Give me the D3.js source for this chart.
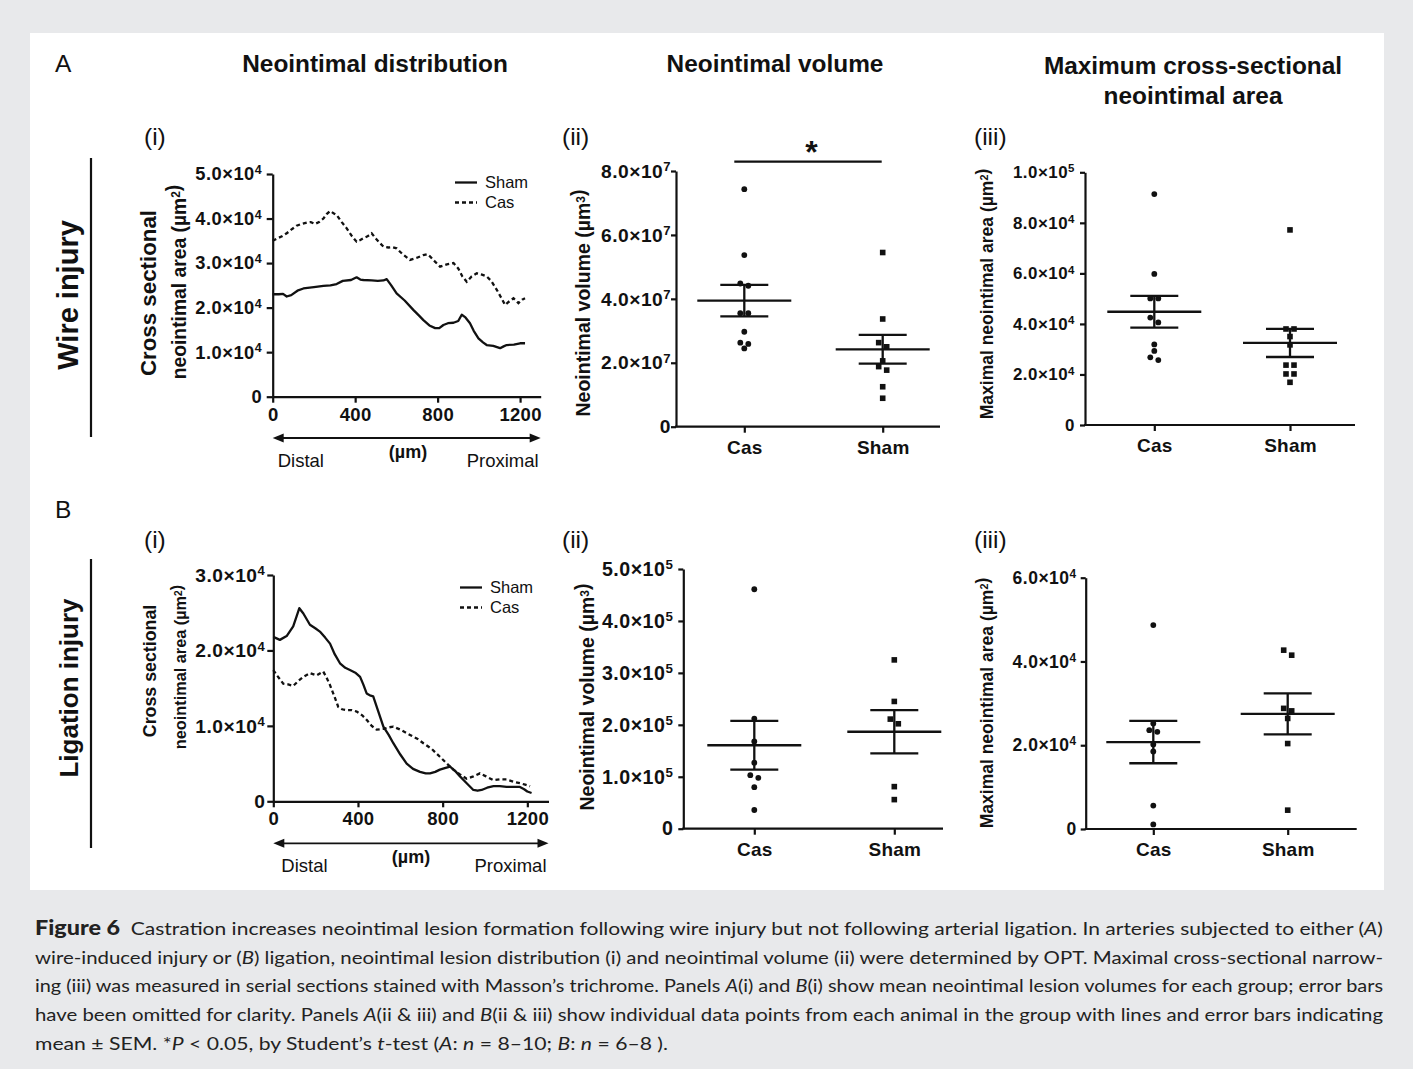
<!DOCTYPE html>
<html>
<head>
<meta charset="utf-8">
<script src="https://cdnjs.cloudflare.com/ajax/libs/d3/7.8.5/d3.min.js"></script>
<style>
  html, body { margin: 0; padding: 0; background: #e8e9eb; }
  svg { display: block; }
</style>
</head>
<body>
<svg id="fig" width="1413" height="1069"></svg>
<script>
// ---------------- DATA ----------------
// (i) neointimal distribution curves: [position (µm), area (µm²)]
const wireSham = [[0,2.30],[30,2.30],[50,2.31],[68,2.25],[90,2.28],[120,2.38],[149,2.43],[200,2.46],[246,2.49],[280,2.50],[310,2.53],[340,2.60],[380,2.62],[407,2.68],[425,2.63],[440,2.62],[480,2.61],[510,2.60],[537,2.61],[553,2.64],[575,2.50],[601,2.32],[640,2.16],[682,1.95],[710,1.82],[731,1.72],[760,1.60],[788,1.54],[808,1.54],[828,1.61],[850,1.65],[877,1.66],[900,1.70],[917,1.84],[935,1.78],[957,1.65],[975,1.48],[998,1.31],[1020,1.22],[1038,1.16],[1070,1.14],[1103,1.09],[1120,1.13],[1135,1.16],[1170,1.17],[1200,1.20],[1224,1.20]].map(d => [d[0], d[1]*1e4]);
const wireCas = [[0,3.50],[20,3.55],[45,3.60],[68,3.67],[90,3.75],[116,3.84],[140,3.88],[165,3.91],[185,3.92],[205,3.88],[225,3.92],[246,4.00],[262,4.10],[278,4.17],[295,4.12],[310,4.08],[335,3.92],[359,3.78],[385,3.60],[407,3.48],[425,3.52],[440,3.56],[460,3.60],[480,3.67],[500,3.55],[520,3.45],[537,3.37],[560,3.35],[580,3.36],[601,3.33],[630,3.20],[666,3.07],[700,3.12],[731,3.18],[750,3.20],[763,3.15],[790,3.02],[812,2.92],[845,2.97],[877,3.00],[900,2.88],[920,2.70],[941,2.58],[965,2.70],[990,2.77],[1015,2.74],[1038,2.70],[1060,2.60],[1087,2.40],[1105,2.25],[1127,2.06],[1150,2.15],[1168,2.21],[1192,2.10],[1210,2.18],[1224,2.21]].map(d => [d[0], d[1]*1e4]);
const ligSham = [[0,2.18],[31,2.14],[63,2.19],[94,2.32],[110,2.45],[123,2.56],[142,2.49],[173,2.34],[200,2.29],[220,2.25],[245,2.17],[268,2.09],[290,1.95],[315,1.83],[340,1.77],[362,1.74],[390,1.70],[410,1.65],[425,1.55],[441,1.43],[460,1.40],[472,1.39],[495,1.20],[520,0.99],[545,0.88],[567,0.77],[600,0.62],[630,0.50],[660,0.43],[693,0.39],[720,0.37],[740,0.37],[765,0.39],[787,0.42],[810,0.44],[835,0.46],[860,0.40],[882,0.33],[910,0.25],[945,0.15],[965,0.14],[984,0.15],[1010,0.18],[1040,0.20],[1070,0.20],[1102,0.19],[1135,0.19],[1165,0.19],[1185,0.16],[1200,0.13],[1220,0.11]].map(d => [d[0], d[1]*1e4]);
const ligCas = [[0,1.74],[20,1.66],[47,1.56],[70,1.55],[94,1.53],[120,1.60],[142,1.65],[173,1.70],[205,1.67],[236,1.72],[250,1.65],[268,1.54],[290,1.38],[307,1.25],[325,1.22],[346,1.21],[370,1.21],[394,1.19],[420,1.14],[441,1.08],[465,1.00],[488,0.95],[520,0.96],[545,0.98],[567,0.99],[600,0.95],[646,0.88],[680,0.83],[709,0.77],[750,0.69],[787,0.59],[820,0.50],[850,0.42],[880,0.36],[913,0.30],[945,0.33],[976,0.37],[1005,0.33],[1040,0.28],[1070,0.29],[1102,0.29],[1135,0.26],[1165,0.24],[1190,0.22],[1213,0.20]].map(d => [d[0], d[1]*1e4]);

const distTicks = [0, 400, 800, 1200];

// (ii) neointimal volume (µm³), individual animals
const volWireCas  = [7.43, 5.37, 4.48, 4.41, 3.55, 3.55, 2.97, 2.63, 2.59, 2.45].map(v => v*1e7);
const volWireSham = [5.45, 3.37, 2.63, 2.50, 2.06, 1.88, 1.77, 1.25, 0.89].map(v => v*1e7);
const volLigCas   = [4.61, 2.12, 1.68, 1.27, 1.03, 0.98, 0.80, 0.36].map(v => v*1e5);
const volLigSham  = [3.25, 2.45, 2.11, 2.02, 0.81, 0.56].map(v => v*1e5);

// (iii) maximal neointimal area (µm²), individual animals
const areaWireCas  = [9.14, 5.98, 5.01, 5.01, 4.25, 4.06, 3.19, 2.93, 2.68, 2.57].map(v => v*1e4);
const areaWireSham = [7.72, 3.80, 3.80, 3.50, 3.17, 2.37, 2.37, 2.02, 2.02, 1.69].map(v => v*1e4);
const areaLigCas   = [4.87, 2.52, 2.36, 2.32, 2.02, 1.85, 0.56, 0.11].map(v => v*1e4);
const areaLigSham  = [4.27, 4.15, 2.88, 2.82, 2.64, 2.04, 0.45].map(v => v*1e4);

const groups = ["Cas", "Sham"];

// ---------------- DRAWING ----------------
const FONT = "'Liberation Sans', Arial, Helvetica, sans-serif";
const svg = d3.select("#fig");
svg.append("rect").attr("width", 1413).attr("height", 1069).attr("fill", "#e8e9eb");
svg.append("rect").attr("x", 30).attr("y", 33).attr("width", 1354).attr("height", 857).attr("fill", "#ffffff");

const g = svg.append("g").attr("font-family", FONT).attr("fill", "#111");

function txt(x, y, s, opt = {}) {
  const t = g.append("text").attr("x", x).attr("y", y).text(s)
    .attr("font-size", opt.size || 16)
    .attr("font-weight", opt.bold ? "bold" : "normal")
    .attr("text-anchor", opt.anchor || "start");
  return t;
}
function rotTxt(x, y, parts, opt = {}) {
  const t = g.append("text")
    .attr("transform", `translate(${x},${y}) rotate(-90)`)
    .attr("font-size", opt.size || 18)
    .attr("font-weight", "bold")
    .attr("text-anchor", opt.anchor || "middle");
  parts.forEach(p => {
    if (typeof p === "string") t.append("tspan").text(p);
    else {
      t.append("tspan").text(p.sup).attr("dy", "-0.45em").attr("font-size", "0.62em");
      t.append("tspan").text("").attr("dy", "0.45em");
    }
  });
  return t;
}

// headings
txt(55, 72, "A", { size: 24.5 });
txt(55, 518, "B", { size: 24.5 });
txt(375, 72, "Neointimal distribution", { size: 24.4, bold: true, anchor: "middle" });
txt(775, 72, "Neointimal volume", { size: 24.4, bold: true, anchor: "middle" });
txt(1193, 74, "Maximum cross-sectional", { size: 24.4, bold: true, anchor: "middle" });
txt(1193, 104, "neointimal area", { size: 24.4, bold: true, anchor: "middle" });
[["(i)", 144, 145], ["(ii)", 562, 145], ["(iii)", 974, 145], ["(i)", 144, 548], ["(ii)", 562, 548], ["(iii)", 974, 548]]
  .forEach(d => txt(d[1], d[2], d[0], { size: 24.5 }));

// row labels with vertical rules
g.append("line").attr("x1", 91).attr("x2", 91).attr("y1", 158).attr("y2", 437).attr("stroke", "#111").attr("stroke-width", 2.2);
g.append("line").attr("x1", 91).attr("x2", 91).attr("y1", 559).attr("y2", 848).attr("stroke", "#111").attr("stroke-width", 2.2);
rotTxt(78, 295, ["Wire injury"], { size: 29 });
rotTxt(78, 688, ["Ligation injury"], { size: 26 });

// tick label with superscript exponent
function sciLabel(sel) {
  sel.each(function (v) {
    const t = d3.select(this);
    t.text("");
    if (v === 0) { t.text("0"); return; }
    const e = Math.floor(Math.log10(v) + 1e-9);
    const m = v / Math.pow(10, e);
    t.append("tspan").text(m.toFixed(1) + "×10");
    t.append("tspan").text(String(e)).attr("dy", "-0.5em").attr("font-size", "0.68em");
  });
}

function styleAxis(ax, size, ls) {
  ax.selectAll("path.domain").attr("stroke", "#111").attr("stroke-width", 2.2);
  ax.selectAll(".tick line").attr("stroke", "#111").attr("stroke-width", 2.2);
  ax.selectAll(".tick text").attr("fill", "#111").attr("font-size", size).attr("font-weight", "bold")
    .attr("font-family", FONT).attr("letter-spacing", ls || 0);
}

// ------- distribution panels (i) -------
function distPanel(cfg) {
  const x = d3.scaleLinear().domain([0, 1300]).range([cfg.x0, cfg.x1]);
  const y = d3.scaleLinear().domain([0, cfg.ymax]).range([cfg.yb, cfg.yt]);
  const ya = g.append("g").attr("transform", `translate(${cfg.x0},0)`)
    .call(d3.axisLeft(y).ticks(cfg.nt).tickSize(6).tickSizeOuter(0).tickPadding(cfg.pad));
  styleAxis(ya, cfg.tfs, 0.5);
  ya.selectAll(".tick text").call(sciLabel);
  const xa = g.append("g").attr("transform", `translate(0,${cfg.yb})`)
    .call(d3.axisBottom(x).tickValues(distTicks).tickFormat(d3.format("d")).tickSize(6).tickSizeOuter(0).tickPadding(5));
  styleAxis(xa, 18.5, 0.3);
  const line = d3.line().x(d => x(d[0])).y(d => y(d[1]));
  g.append("path").datum(cfg.cas).attr("d", line).attr("fill", "none").attr("stroke", "#111")
    .attr("stroke-width", 2.3).attr("stroke-dasharray", "4,3");
  g.append("path").datum(cfg.sham).attr("d", line).attr("fill", "none").attr("stroke", "#111")
    .attr("stroke-width", 2.3).attr("stroke-linejoin", "round");
  // legend
  const L = cfg.leg;
  g.append("line").attr("x1", L.x).attr("x2", L.x + 22).attr("y1", L.y).attr("y2", L.y).attr("stroke", "#111").attr("stroke-width", 2.3);
  g.append("line").attr("x1", L.x).attr("x2", L.x + 22).attr("y1", L.y + 20).attr("y2", L.y + 20).attr("stroke", "#111").attr("stroke-width", 2.3).attr("stroke-dasharray", "4,3");
  txt(L.x + 30, L.y + 5.5, "Sham", { size: 16.5 });
  txt(L.x + 30, L.y + 25.5, "Cas", { size: 16.5 });
  // direction arrow
  const ay = cfg.arrowY, ax0 = x(0), ax1 = x(1300);
  g.append("line").attr("x1", ax0 + 6).attr("x2", ax1 - 6).attr("y1", ay).attr("y2", ay).attr("stroke", "#111").attr("stroke-width", 1.8);
  g.append("path").attr("d", `M${ax0},${ay} l11,-4.5 l0,9 z`).attr("fill", "#111");
  g.append("path").attr("d", `M${ax1},${ay} l-11,-4.5 l0,9 z`).attr("fill", "#111");
  txt(ax0 + cfg.distalDx, ay + 29, "Distal", { size: 18.5 });
  txt(ax1 - 2, ay + 29, "Proximal", { size: 18.5, anchor: "end" });
  txt(cfg.umX, ay + 20, "(µm)", { size: 18, bold: true, anchor: "middle" });
  // y title
  rotTxt(cfg.x0 - 117, cfg.t1y, ["Cross sectional"], { size: cfg.tsize1 });
  rotTxt(cfg.x0 - 87, cfg.t2y, ["neointimal area (µm", { sup: "2" }, ")"], { size: cfg.tsize2 });
}

distPanel({ x0: 272.7, x1: 540.7, yb: 396.7, yt: 174, ymax: 5e4, nt: 5, tfs: 18.3, pad: 4.5,
  sham: wireSham, cas: wireCas, leg: { x: 455, y: 182.5 }, arrowY: 438,
  distalDx: 5, umX: 408, t1y: 293, t2y: 282, tsize1: 22.3, tsize2: 19.3 });
distPanel({ x0: 273.3, x1: 548.5, yb: 801.3, yt: 575, ymax: 3e4, nt: 3, tfs: 19.2, pad: 2,
  sham: ligSham, cas: ligCas, leg: { x: 460, y: 587.5 }, arrowY: 843.3,
  distalDx: 8, umX: 411, t1y: 671, t2y: 667, tsize1: 17.8, tsize2: 16.3 });

// ------- scatter panels (ii, iii) -------
function swarm(values, y, spacing, thresh) {
  const sorted = values.slice().sort((a, b) => b - a);
  const rows = [];
  sorted.forEach(v => {
    const r = rows[rows.length - 1];
    if (r && Math.abs(y(r[0]) - y(v)) < thresh) r.push(v); else rows.push([v]);
  });
  const out = [];
  rows.forEach(r => r.forEach((v, i) => out.push({ v, dx: (i - (r.length - 1) / 2) * spacing })));
  return out;
}

function scatterPanel(cfg) {
  const y = d3.scaleLinear().domain([0, cfg.ymax]).range([cfg.yb, cfg.yt]);
  const x = d3.scalePoint().domain(groups).range([cfg.xc, cfg.xs]);
  const ya = g.append("g").attr("transform", `translate(${cfg.ax0},0)`)
    .call(d3.axisLeft(y).ticks(cfg.nt).tickSize(5).tickSizeOuter(0).tickPadding(cfg.pad));
  styleAxis(ya, cfg.tfs, 0.5);
  ya.selectAll(".tick text").call(sciLabel);
  g.append("line").attr("x1", cfg.ax0 - 1).attr("x2", cfg.ax1).attr("y1", cfg.yb).attr("y2", cfg.yb)
    .attr("stroke", "#111").attr("stroke-width", 2.2);
  const xa = g.append("g").attr("transform", `translate(0,${cfg.yb})`)
    .call(d3.axisBottom(x).tickSize(6).tickSizeOuter(0).tickPadding(8));
  xa.select("path.domain").remove();
  styleAxis(xa, 19, 0.2);

  [cfg.cas, cfg.sham].forEach((vals, gi) => {
    const cx = x(groups[gi]);
    const pts = swarm(vals, y, 8, 5.5);
    if (gi === 0) {
      g.append("g").selectAll("circle").data(pts).join("circle")
        .attr("cx", d => cx + d.dx).attr("cy", d => y(d.v)).attr("r", 2.9).attr("fill", "#111");
    } else {
      g.append("g").selectAll("rect").data(pts).join("rect")
        .attr("x", d => cx + d.dx - 2.8).attr("y", d => y(d.v) - 2.8).attr("width", 5.6).attr("height", 5.6).attr("fill", "#111");
    }
    const m = d3.mean(vals), sem = d3.deviation(vals) / Math.sqrt(vals.length);
    const st = { stroke: "#111", "stroke-width": 2.3 };
    const ln = (x1, x2, y1, y2) => { const l = g.append("line").attr("x1", x1).attr("x2", x2).attr("y1", y1).attr("y2", y2); Object.entries(st).forEach(([k, v]) => l.attr(k, v)); };
    ln(cx - 47, cx + 47, y(m), y(m));
    ln(cx, cx, y(m - sem), y(m + sem));
    ln(cx - 24, cx + 24, y(m + sem), y(m + sem));
    ln(cx - 24, cx + 24, y(m - sem), y(m - sem));
  });
  rotTxt(cfg.tx, cfg.ty, cfg.title, { size: cfg.tsize });
  return { x, y };
}

const a2 = scatterPanel({ ymax: 8e7, nt: 4, yb: 426.7, yt: 171, xc: 744.3, xs: 882.7, ax0: 676, ax1: 940,
  tfs: 19.2, pad: 0, cas: volWireCas, sham: volWireSham, tx: 590, ty: 303, tsize: 19.5,
  title: ["Neointimal volume (µm", { sup: "3" }, ")"] });
scatterPanel({ ymax: 1e5, nt: 5, yb: 425, yt: 172.3, xc: 1154.3, xs: 1290, ax0: 1085, ax1: 1355,
  tfs: 16.9, pad: 5, cas: areaWireCas, sham: areaWireSham, tx: 993, ty: 294, tsize: 17.5,
  title: ["Maximal neointimal area (µm", { sup: "2" }, ")"] });
scatterPanel({ ymax: 5e5, nt: 5, yb: 828.7, yt: 569, xc: 754.3, xs: 894.3, ax0: 683.3, ax1: 943,
  tfs: 19.6, pad: 5, cas: volLigCas, sham: volLigSham, tx: 594, ty: 697, tsize: 19.5,
  title: ["Neointimal volume (µm", { sup: "3" }, ")"] });
scatterPanel({ ymax: 6e4, nt: 3, yb: 829, yt: 577.7, xc: 1153.3, xs: 1287.7, ax0: 1085.7, ax1: 1356.7,
  tfs: 17.5, pad: 4, cas: areaLigCas, sham: areaLigSham, tx: 993, ty: 703, tsize: 17.5,
  title: ["Maximal neointimal area (µm", { sup: "2" }, ")"] });

// significance bar (A ii)
g.append("line").attr("x1", a2.x("Cas") - 10).attr("x2", a2.x("Sham") - 1).attr("y1", 161.7).attr("y2", 161.7)
  .attr("stroke", "#111").attr("stroke-width", 2.2);
txt((a2.x("Cas") + a2.x("Sham")) / 2 - 2, 163, "*", { size: 32, bold: true, anchor: "middle" });

// ------- caption -------
const CFONT = "Lato, 'Open Sans', sans-serif";
const capLines = [
  { w: 1348, segs: [["Figure 6", "b"], ["  Castration increases neointimal lesion formation following wire injury but not following arterial ligation. In arteries subjected to either ("], ["A", "i"], [")"]] },
  { w: 1348, segs: [["wire-induced injury or ("], ["B", "i"], [") ligation, neointimal lesion distribution (i) and neointimal volume (ii) were determined by OPT. Maximal cross-sectional narrow-"]] },
  { w: 1348, segs: [["ing (iii) was measured in serial sections stained with Masson’s trichrome. Panels "], ["A", "i"], ["(i) and "], ["B", "i"], ["(i) show mean neointimal lesion volumes for each group; error bars"]] },
  { w: 1348, segs: [["have been omitted for clarity. Panels "], ["A", "i"], ["(ii & iii) and "], ["B", "i"], ["(ii & iii) show individual data points from each animal in the group with lines and error bars indicating"]] },
  { w: 633, segs: [["mean "], ["±"], [" SEM. *"], ["P", "i"], [" < 0.05, by Student’s "], ["t", "i"], ["-test ("], ["A", "i"], [": "], ["n", "i"], [" = 8–10; "], ["B", "i"], [": "], ["n", "i"], [" = 6–8 )."]] }
];
capLines.forEach((ln, i) => {
  const t = svg.append("text").attr("x", 35).attr("y", 935 + i * 28.7)
    .attr("font-family", CFONT).attr("font-size", 18).attr("fill", "#222")
    .attr("textLength", ln.w).attr("lengthAdjust", "spacingAndGlyphs")
    .attr("xml:space", "preserve");
  ln.segs.forEach(s => {
    const sp = t.append("tspan").text(s[0]);
    if (s[1] === "i") sp.attr("font-style", "italic");
    if (s[1] === "b") sp.attr("font-weight", "900").attr("font-size", 20);
  });
});
</script>
</body>
</html>
